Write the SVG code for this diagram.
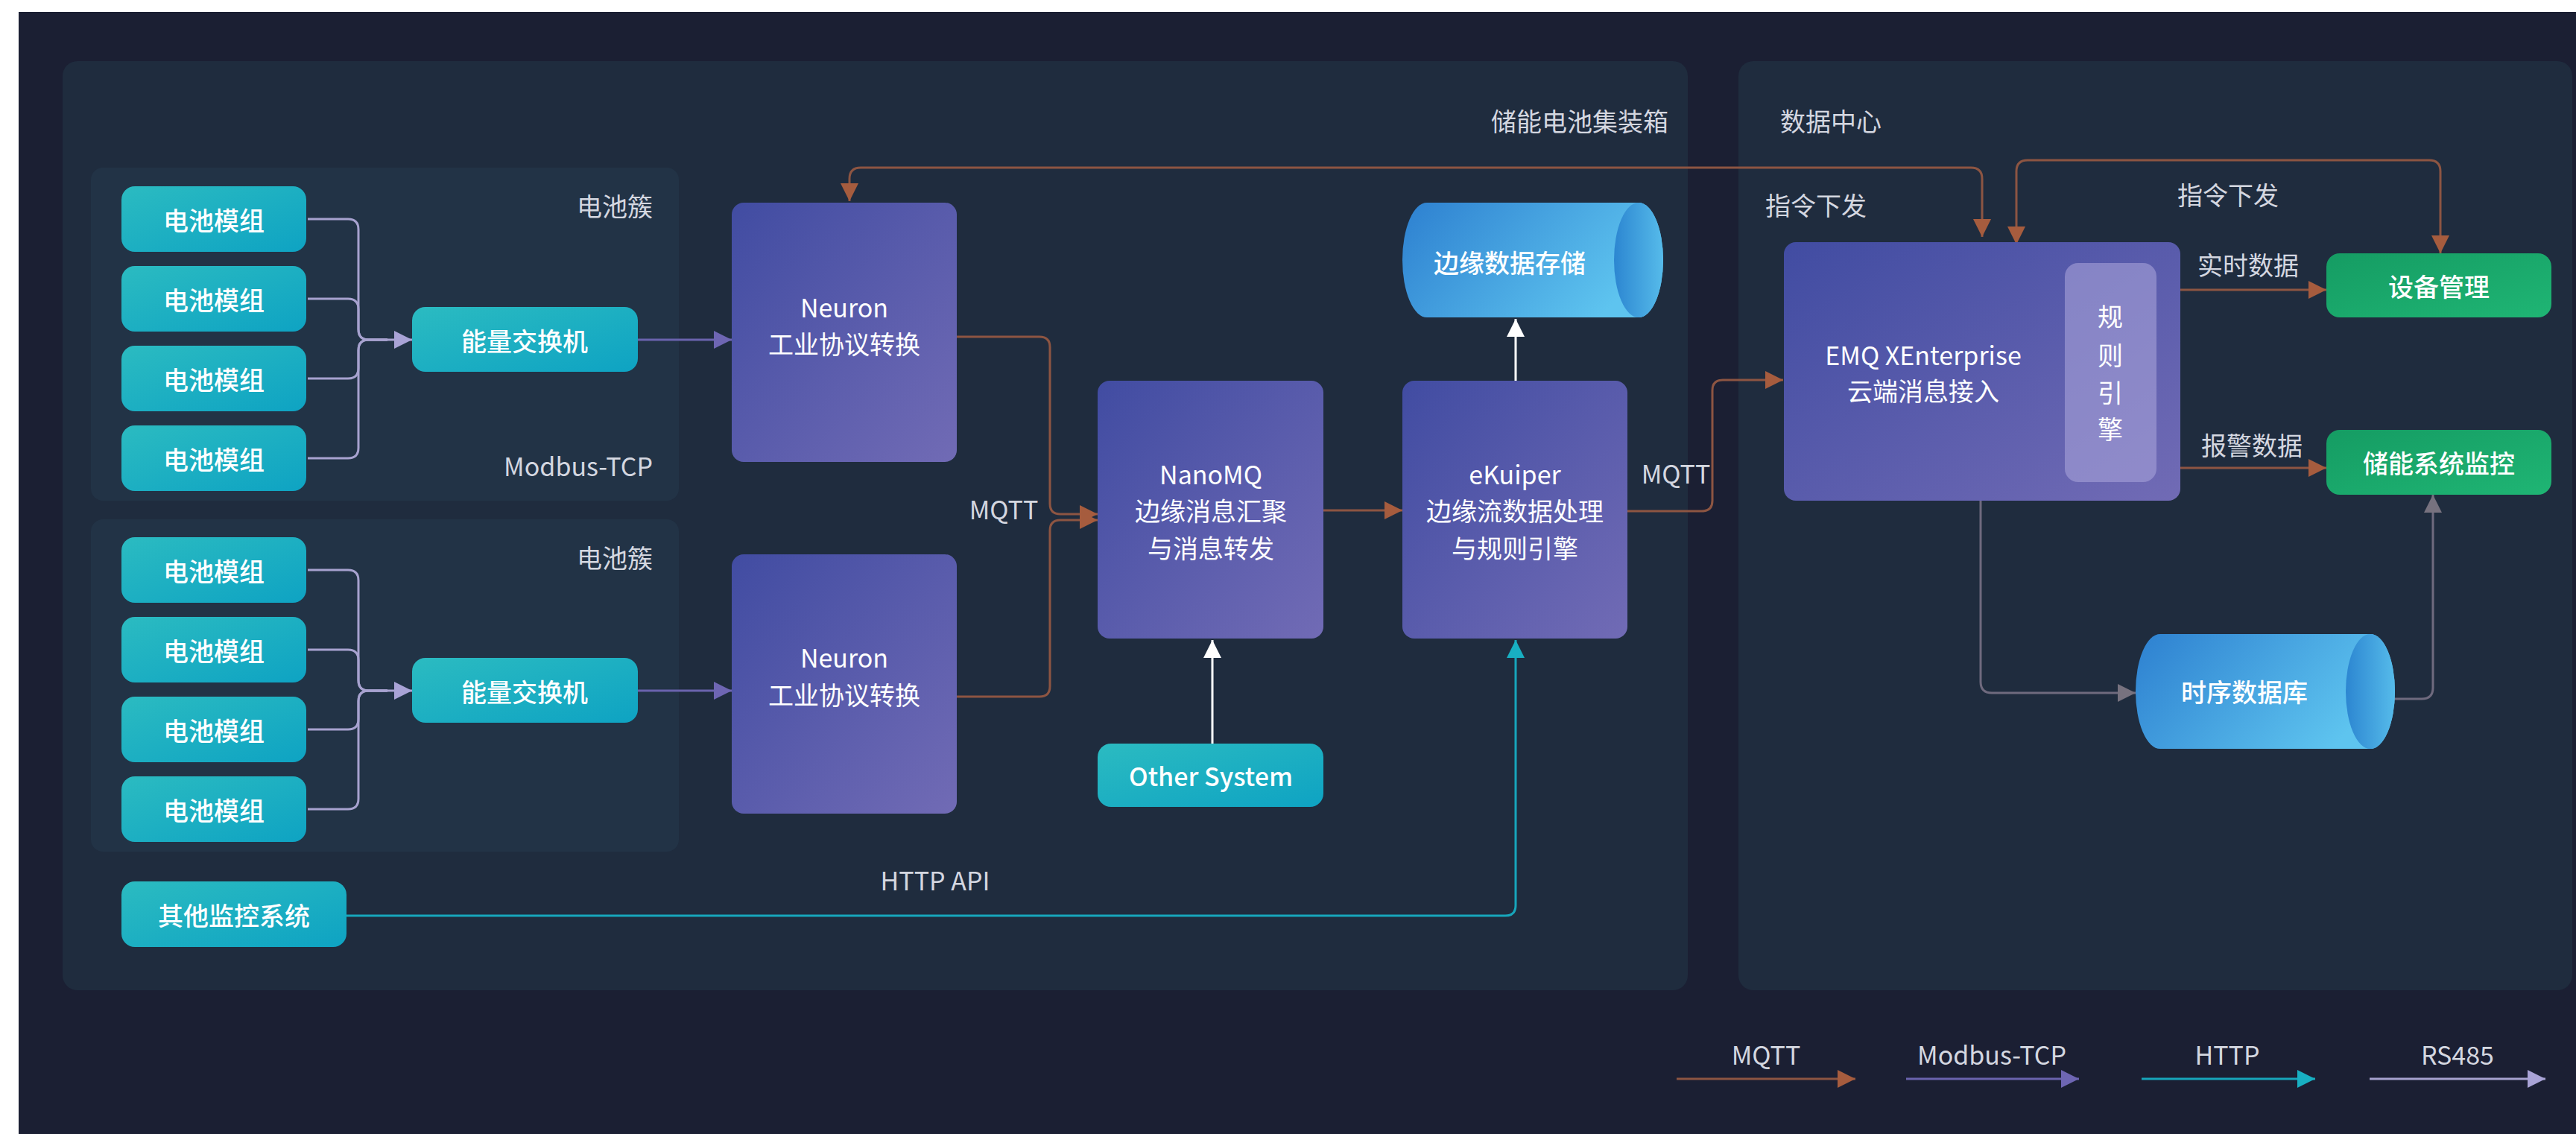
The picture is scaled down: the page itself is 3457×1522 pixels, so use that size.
<svg xmlns="http://www.w3.org/2000/svg" width="3457" height="1522" viewBox="0 0 3457 1522">
<style>
text{font-family:"Noto Sans CJK SC","Liberation Sans",sans-serif;dominant-baseline:central}
.nt{fill:#ffffff;font-size:34px;font-weight:500;text-anchor:middle}
.np{fill:#ffffff;font-size:34px;font-weight:400;text-anchor:middle}
.lb{fill:#d4d7e0;font-size:34px}
.c{fill:none;stroke-width:3}
.mq{stroke:#8d5542}
.mb{stroke:#6a63ad}
.rs{stroke:#a7a2cf}
.ht{stroke:#17a6bb}
.gr{stroke:#6f6a7e}
.wh{stroke:#ffffff}
</style>
<defs>
<linearGradient id="gTeal" x1="0" y1="0" x2="1" y2="1"><stop offset="0" stop-color="#2bbbc1"/><stop offset="1" stop-color="#0ea3c3"/></linearGradient>
<linearGradient id="gPur" x1="0" y1="0" x2="1" y2="1"><stop offset="0" stop-color="#414ca2"/><stop offset="1" stop-color="#716bb5"/></linearGradient>
<linearGradient id="gGreen" x1="0" y1="0" x2="1" y2="1"><stop offset="0" stop-color="#159c63"/><stop offset="1" stop-color="#1fb574"/></linearGradient>
<linearGradient id="gCyl" x1="0" y1="0" x2="1" y2="0.4"><stop offset="0" stop-color="#2d80d0"/><stop offset="1" stop-color="#5ec4ef"/></linearGradient>
<linearGradient id="gCap" x1="0" y1="0" x2="1" y2="0"><stop offset="0" stop-color="#2c86d1"/><stop offset="1" stop-color="#56bbea"/></linearGradient>
<marker id="aMq" viewBox="0 0 24 24" refX="24" refY="12" markerWidth="24" markerHeight="24" markerUnits="userSpaceOnUse" orient="auto-start-reverse"><path d="M0,0 L24,12 L0,24 z" fill="#a65c3e"/></marker>
<marker id="aMb" viewBox="0 0 24 24" refX="24" refY="12" markerWidth="24" markerHeight="24" markerUnits="userSpaceOnUse" orient="auto"><path d="M0,0 L24,12 L0,24 z" fill="#6e66b3"/></marker>
<marker id="aRs" viewBox="0 0 24 24" refX="24" refY="12" markerWidth="24" markerHeight="24" markerUnits="userSpaceOnUse" orient="auto"><path d="M0,0 L24,12 L0,24 z" fill="#a9a3d6"/></marker>
<marker id="aHt" viewBox="0 0 24 24" refX="24" refY="12" markerWidth="24" markerHeight="24" markerUnits="userSpaceOnUse" orient="auto"><path d="M0,0 L24,12 L0,24 z" fill="#18afc2"/></marker>
<marker id="aGr" viewBox="0 0 24 24" refX="24" refY="12" markerWidth="24" markerHeight="24" markerUnits="userSpaceOnUse" orient="auto"><path d="M0,0 L24,12 L0,24 z" fill="#77727f"/></marker>
<marker id="aWh" viewBox="0 0 24 24" refX="24" refY="12" markerWidth="24" markerHeight="24" markerUnits="userSpaceOnUse" orient="auto"><path d="M0,0 L24,12 L0,24 z" fill="#ffffff"/></marker>
</defs>

<rect x="0" y="0" width="3457" height="1522" fill="#ffffff"/>
<rect x="25" y="16" width="3432" height="1506" fill="#1b1f33"/>

<g id="panel-container">
<rect x="84" y="82" width="2181" height="1247" rx="20" fill="#1f2c3e"/>
<text class="lb" x="2239" y="161" text-anchor="end">储能电池集装箱</text>
</g>
<g id="panel-datacenter">
<rect x="2333" y="82" width="1119" height="1247" rx="20" fill="#1f2c3e"/>
<text class="lb" x="2389" y="161">数据中心</text>
</g>
<g id="cluster1">
<rect x="122" y="225" width="789" height="447" rx="16" fill="#223346"/>
<text class="lb" x="876" y="275" text-anchor="end">电池簇</text>
<text class="lb" x="876" y="624" text-anchor="end">Modbus-TCP</text>
</g>
<g id="cluster2">
<rect x="122" y="697" width="789" height="446" rx="16" fill="#223346"/>
<text class="lb" x="876" y="747" text-anchor="end">电池簇</text>
</g>

<g id="connectors">
<path class="c rs" d="M413,294 H467 Q481,294 481,308 V442 Q481,456 495,456 H553" marker-end="url(#aRs)"/>
<path class="c rs" d="M413,401 H467 Q481,401 481,415 V442 Q481,456 495,456 H520"/>
<path class="c rs" d="M413,508 H467 Q481,508 481,494 V470 Q481,456 495,456 H520"/>
<path class="c rs" d="M413,615 H467 Q481,615 481,601 V470 Q481,456 495,456 H520"/>
<path class="c rs" d="M413,765 H467 Q481,765 481,779 V913 Q481,927 495,927 H553" marker-end="url(#aRs)"/>
<path class="c rs" d="M413,872 H467 Q481,872 481,886 V913 Q481,927 495,927 H520"/>
<path class="c rs" d="M413,979 H467 Q481,979 481,965 V941 Q481,927 495,927 H520"/>
<path class="c rs" d="M413,1086 H467 Q481,1086 481,1072 V941 Q481,927 495,927 H520"/>
<path class="c mb" d="M856,456 H982" marker-end="url(#aMb)"/>
<path class="c mb" d="M856,927 H982" marker-end="url(#aMb)"/>
<path class="c mq" d="M1284,452 H1395 Q1409,452 1409,466 V676 Q1409,690 1423,690 H1473" marker-end="url(#aMq)"/>
<path class="c mq" d="M1284,935 H1395 Q1409,935 1409,921 V712 Q1409,698 1423,698 H1473" marker-end="url(#aMq)"/>
<path class="c mq" d="M1776,685 H1882" marker-end="url(#aMq)"/>
<path class="c wh" d="M2034,511 V428" marker-end="url(#aWh)"/>
<path class="c wh" d="M1627,998 V859" marker-end="url(#aWh)"/>
<path class="c ht" d="M465,1229 H2020 Q2034,1229 2034,1215 V859" marker-end="url(#aHt)"/>
<path class="c mq" d="M2184,686 H2284 Q2298,686 2298,672 V524 Q2298,510 2312,510 H2393" marker-end="url(#aMq)"/>
<path class="c mq" d="M1140,270 V240 Q1140,225 1155,225 H2645 Q2660,225 2660,240 V318" marker-start="url(#aMq)" marker-end="url(#aMq)"/>
<path class="c mq" d="M2706,328 V230 Q2706,215 2721,215 H3260 Q3275,215 3275,230 V340" marker-start="url(#aMq)" marker-end="url(#aMq)"/>
<path class="c mq" d="M2926,389 H3122" marker-end="url(#aMq)"/>
<path class="c mq" d="M2926,628 H3122" marker-end="url(#aMq)"/>
<path class="c gr" d="M2658,672 V915 Q2658,930 2673,930 H2866" marker-end="url(#aGr)"/>
<path class="c gr" d="M3178,938 H3250 Q3265,938 3265,923 V664" marker-end="url(#aGr)"/>
<text class="lb" x="1347" y="682" text-anchor="middle">MQTT</text>
<text class="lb" x="2249" y="634" text-anchor="middle">MQTT</text>
<text class="lb" x="1255" y="1180" text-anchor="middle">HTTP API</text>
<text class="lb" x="2437" y="274" text-anchor="middle">指令下发</text>
<text class="lb" x="2990" y="260" text-anchor="middle">指令下发</text>
<text class="lb" x="3017" y="354" text-anchor="middle">实时数据</text>
<text class="lb" x="3022" y="596" text-anchor="middle">报警数据</text>
</g>

<g id="module-1-1"><rect x="163" y="250" width="248" height="88" rx="18" fill="url(#gTeal)"/><text class="nt" x="287" y="294">电池模组</text></g>
<g id="module-1-2"><rect x="163" y="357" width="248" height="88" rx="18" fill="url(#gTeal)"/><text class="nt" x="287" y="401">电池模组</text></g>
<g id="module-1-3"><rect x="163" y="464" width="248" height="88" rx="18" fill="url(#gTeal)"/><text class="nt" x="287" y="508">电池模组</text></g>
<g id="module-1-4"><rect x="163" y="571" width="248" height="88" rx="18" fill="url(#gTeal)"/><text class="nt" x="287" y="615">电池模组</text></g>
<g id="module-2-1"><rect x="163" y="721" width="248" height="88" rx="18" fill="url(#gTeal)"/><text class="nt" x="287" y="765">电池模组</text></g>
<g id="module-2-2"><rect x="163" y="828" width="248" height="88" rx="18" fill="url(#gTeal)"/><text class="nt" x="287" y="872">电池模组</text></g>
<g id="module-2-3"><rect x="163" y="935" width="248" height="88" rx="18" fill="url(#gTeal)"/><text class="nt" x="287" y="979">电池模组</text></g>
<g id="module-2-4"><rect x="163" y="1042" width="248" height="88" rx="18" fill="url(#gTeal)"/><text class="nt" x="287" y="1086">电池模组</text></g>
<g id="switch-1"><rect x="553" y="412" width="303" height="87" rx="18" fill="url(#gTeal)"/><text class="nt" x="704" y="456">能量交换机</text></g>
<g id="switch-2"><rect x="553" y="883" width="303" height="87" rx="18" fill="url(#gTeal)"/><text class="nt" x="704" y="927">能量交换机</text></g>
<g id="other-monitor"><rect x="163" y="1183" width="302" height="88" rx="18" fill="url(#gTeal)"/><text class="nt" x="314" y="1227">其他监控系统</text></g>

<g id="neuron-1"><rect x="982" y="272" width="302" height="348" rx="16" fill="url(#gPur)"/><text class="np" x="1133" y="411">Neuron</text><text class="np" x="1133" y="460">工业协议转换</text></g>
<g id="neuron-2"><rect x="982" y="744" width="302" height="348" rx="16" fill="url(#gPur)"/><text class="np" x="1133" y="881">Neuron</text><text class="np" x="1133" y="931">工业协议转换</text></g>
<g id="nanomq"><rect x="1473" y="511" width="303" height="346" rx="16" fill="url(#gPur)"/><text class="np" x="1625" y="635">NanoMQ</text><text class="np" x="1625" y="684">边缘消息汇聚</text><text class="np" x="1625" y="734">与消息转发</text></g>
<g id="ekuiper"><rect x="1882" y="511" width="302" height="346" rx="16" fill="url(#gPur)"/><text class="np" x="2033" y="635">eKuiper</text><text class="np" x="2033" y="684">边缘流数据处理</text><text class="np" x="2033" y="734">与规则引擎</text></g>
<g id="other-system"><rect x="1473" y="998" width="303" height="85" rx="18" fill="url(#gTeal)"/><text class="nt" x="1625" y="1040">Other System</text></g>
<g id="edge-storage"><path d="M1915,272 H2199 A33,77 0 0 1 2199,426 H1915 A33,77 0 0 1 1915,272 Z" fill="url(#gCyl)"/><ellipse cx="2199" cy="349" rx="33" ry="77" fill="url(#gCap)"/><text class="nt" x="2026" y="351">边缘数据存储</text></g>

<g id="emqx"><rect x="2394" y="325" width="532" height="347" rx="16" fill="url(#gPur)"/><text class="np" x="2581" y="475">EMQ XEnterprise</text><text class="np" x="2581" y="523">云端消息接入</text></g>
<g id="rule-engine"><rect x="2771" y="353" width="123" height="294" rx="18" fill="#a6a2d8" fill-opacity="0.6"/><text class="np" x="2832" y="423">规</text><text class="np" x="2832" y="475">则</text><text class="np" x="2832" y="525">引</text><text class="np" x="2832" y="574">擎</text></g>
<g id="device-mgmt"><rect x="3122" y="340" width="302" height="86" rx="18" fill="url(#gGreen)"/><text class="nt" x="3273" y="383">设备管理</text></g>
<g id="ess-monitor"><rect x="3122" y="577" width="302" height="87" rx="18" fill="url(#gGreen)"/><text class="nt" x="3273" y="620">储能系统监控</text></g>
<g id="tsdb"><path d="M2899,851 H3181 A33,77 0 0 1 3181,1005 H2899 A33,77 0 0 1 2899,851 Z" fill="url(#gCyl)"/><ellipse cx="3181" cy="928" rx="33" ry="77" fill="url(#gCap)"/><text class="nt" x="3012" y="927">时序数据库</text></g>

<g id="legend">
<path class="c mq" d="M2250,1448 H2490" stroke-width="4" marker-end="url(#aMq)"/>
<path class="c mb" d="M2558,1448 H2790" stroke-width="4" marker-end="url(#aMb)"/>
<path class="c ht" d="M2874,1448 H3107" stroke-width="4" marker-end="url(#aHt)"/>
<path class="c rs" d="M3180,1448 H3416" stroke-width="4" marker-end="url(#aRs)"/>
<text class="lb" x="2370" y="1414" text-anchor="middle">MQTT</text>
<text class="lb" x="2673" y="1414" text-anchor="middle">Modbus-TCP</text>
<text class="lb" x="2989" y="1414" text-anchor="middle">HTTP</text>
<text class="lb" x="3298" y="1414" text-anchor="middle">RS485</text>
</g>
</svg>
